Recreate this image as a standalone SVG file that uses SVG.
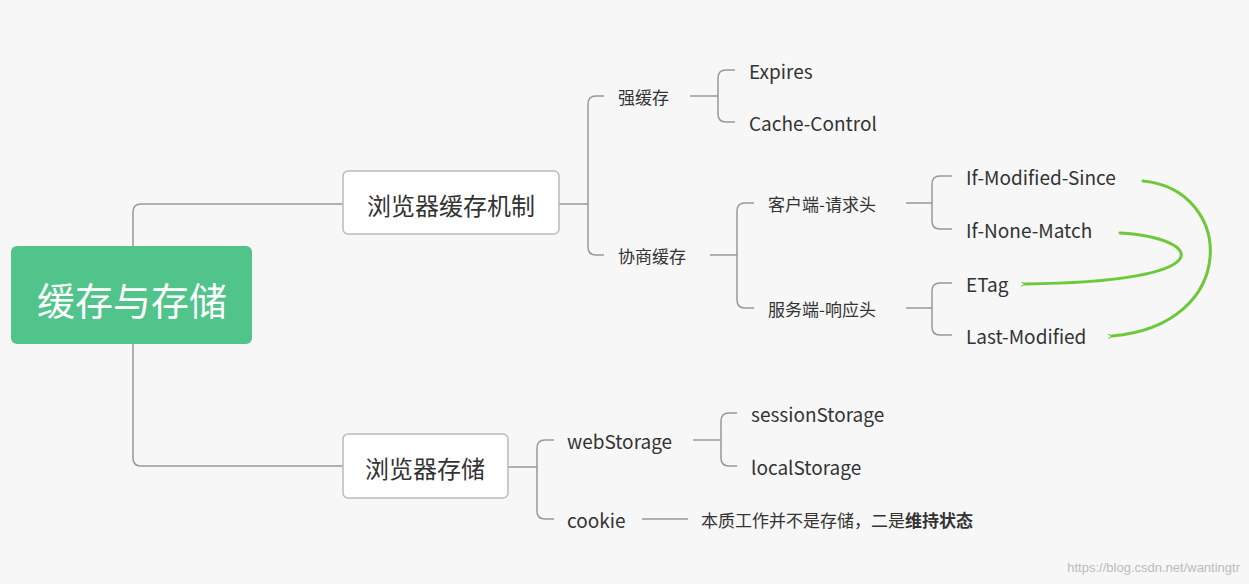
<svg xmlns="http://www.w3.org/2000/svg" width="1249" height="584" viewBox="0 0 1249 584">
<style>
.t{font-family:"Noto Sans CJK SC","Noto Sans",sans-serif;fill:#333;dominant-baseline:central}
.s{font-size:17px}.m{font-size:19px}
.c{fill:none;stroke:#999;stroke-width:1.5}
.box{fill:#fff;stroke:#bbb;stroke-width:1.5}
.g{fill:none;stroke:#6cc93a;stroke-width:3;stroke-linecap:round}
</style>
<defs>
<marker id="ah" viewBox="0 0 12 12" refX="2" refY="6" markerWidth="5" markerHeight="5" orient="auto" markerUnits="userSpaceOnUse">
<path d="M10,1 L2,6 L10,11" fill="none" stroke="#6cc93a" stroke-width="2.5" stroke-linecap="round"/>
</marker>
</defs>
<rect width="1249" height="584" fill="#f7f7f7"/>
<g id="connectors">
<path class="c" d="M133,246 V212 Q133,204 141,204 H343 M133,344 V458 Q133,466 141,466 H343"/>
<path class="c" d="M559,204 H588 M604,96 H596 Q588,96 588,104 V247 Q588,255 596,255 H604"/>
<path class="c" d="M690,96 H718 M735,70 H726 Q718,70 718,78 V114 Q718,122 726,122 H735"/>
<path class="c" d="M710,255 H737 M754,203 H745 Q737,203 737,211 V300 Q737,308 745,308 H754"/>
<path class="c" d="M906,203 H932 M952,176 H940 Q932,176 932,184 V221 Q932,229 940,229 H952"/>
<path class="c" d="M906,308 H932 M952,283 H940 Q932,283 932,291 V327 Q932,335 940,335 H952"/>
<path class="c" d="M508,467 H537 M554,440 H545 Q537,440 537,448 V511 Q537,519 545,519 H554"/>
<path class="c" d="M693,440 H721 M737,413 H729 Q721,413 721,421 V458 Q721,466 729,466 H737"/>
<path class="c" d="M642,519 H688"/>
<path class="g" d="M1143,181 C1235,190 1240,325 1112,336" marker-end="url(#ah)"/>
<path class="g" d="M1120,233 C1205,238 1225,282 1025,284" marker-end="url(#ah)"/>
</g>
<g id="root"><rect x="11" y="246" width="241" height="98" rx="6" fill="#50c48a"/><text class="t" x="132" y="298" font-size="38" text-anchor="middle" style="fill:#fff">缓存与存储</text></g>
<g id="n1"><rect class="box" x="343" y="171" width="216" height="63" rx="5"/><text class="t" x="451" y="204" font-size="24" text-anchor="middle">浏览器缓存机制</text></g>
<g id="n2"><rect class="box" x="343" y="434" width="165" height="64" rx="5"/><text class="t" x="425" y="467" font-size="24" text-anchor="middle">浏览器存储</text></g>
<g id="qhc"><text class="t s" x="618" y="96">强缓存</text></g>
<g id="xshc"><text class="t s" x="618" y="255">协商缓存</text></g>
<g id="expires"><text class="t m" x="749" y="70">Expires</text></g>
<g id="cc"><text class="t m" x="749" y="122">Cache-Control</text></g>
<g id="khd"><text class="t s" x="768" y="203">客户端-请求头</text></g>
<g id="fwd"><text class="t s" x="768" y="308">服务端-响应头</text></g>
<g id="ims"><text class="t m" x="966" y="176">If-Modified-Since</text></g>
<g id="inm"><text class="t m" x="966" y="229">If-None-Match</text></g>
<g id="etag"><text class="t m" x="966" y="283">ETag</text></g>
<g id="lm"><text class="t m" x="966" y="335">Last-Modified</text></g>
<g id="ws"><text class="t m" x="567" y="440">webStorage</text></g>
<g id="cookie"><text class="t m" x="567" y="519">cookie</text></g>
<g id="ss"><text class="t m" x="751" y="413">sessionStorage</text></g>
<g id="ls"><text class="t m" x="751" y="466">localStorage</text></g>
<g id="note"><text class="t s" x="701" y="519">本质工作并不是存储，二是<tspan font-weight="bold">维持状态</tspan></text></g>
<text x="1240" y="567" font-family="Liberation Sans,sans-serif" font-size="13" fill="#bbb" text-anchor="end" dominant-baseline="central">https://blog.csdn.net/wantingtr</text>
</svg>
